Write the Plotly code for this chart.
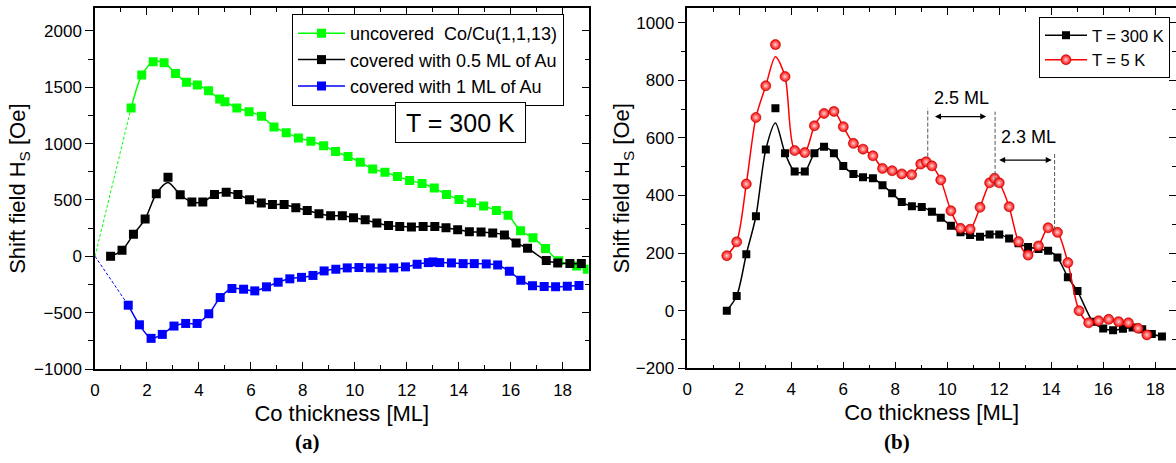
import plotly.graph_objects as go

# ---------------- data: panel (a) ----------------
unc_x = [1.39, 1.80, 2.24, 2.66, 3.10, 3.52, 3.94, 4.37, 4.80, 5.00, 5.46, 5.93, 6.41, 6.89, 7.36,
         7.83, 8.31, 8.80, 9.26, 9.74, 10.21, 10.69, 11.16, 11.64, 12.11, 12.59, 13.06, 13.53,
         14.01, 14.49, 14.96, 15.45, 15.90, 16.38, 16.86, 17.34, 17.85, 18.54, 18.95]
unc_y = [1316, 1608, 1726, 1717, 1622, 1543, 1519, 1469, 1395, 1372, 1316, 1283, 1242, 1148, 1097,
         1050, 1020, 980, 929, 885, 835, 775, 746, 708, 672, 646, 605, 549,
         504, 475, 445, 407, 363, 226, 165, 68, -40, -86, -115]

half_x = [0.60, 1.04, 1.48, 1.93, 2.36, 2.81, 3.28, 3.73, 4.15, 4.60, 5.05, 5.50, 5.95, 6.40, 6.83,
          7.28, 7.73, 8.17, 8.62, 9.07, 9.52, 9.95, 10.40, 10.85, 11.30, 11.73, 12.18, 12.63,
          13.08, 13.51, 13.96, 14.41, 14.86, 15.31, 15.76, 16.21, 16.65, 17.37, 17.81, 18.28, 18.72]
half_y = [0, 53, 195, 330, 555, 702, 546, 481, 481, 549, 569, 549, 502, 472, 460,
          460, 431, 407, 378, 360, 360, 342, 323, 296, 272, 265, 259, 265,
          265, 254, 236, 218, 215, 206, 189, 118, 71, -38, -59, -65, -65]
half_fit = [0, 53, 195, 330, 555, 655, 546, 481, 481, 549, 569, 549, 502, 472, 460,
            460, 431, 407, 378, 360, 360, 342, 323, 296, 272, 265, 259, 265,
            265, 254, 236, 218, 215, 206, 189, 118, 71, -38, -59, -65, -65]

one_x = [1.28, 1.71, 2.16, 2.59, 3.04, 3.49, 3.93, 4.38, 4.82, 5.27, 5.72, 6.15, 6.60, 7.05, 7.50,
         7.95, 8.39, 8.82, 9.27, 9.71, 10.16, 10.60, 11.05, 11.50, 11.95, 12.40, 12.83, 13.01,
         13.27, 13.72, 14.17, 14.60, 15.06, 15.50, 15.95, 16.39, 16.84, 17.29, 17.73, 18.18, 18.63]
one_y = [-434, -608, -728, -693, -619, -596, -596, -510, -366, -286, -292, -307, -271, -230, -200,
         -187, -170, -130, -115, -103, -100, -103, -105, -103, -94, -71, -56, -50,
         -56, -59, -65, -65, -68, -77, -133, -212, -262, -268, -271, -265, -259]

# extrapolation to the origin (dashed)
origin = [0, 0]

# ---------------- data: panel (b) ----------------
k300_x = [1.52, 1.90, 2.27, 2.64, 3.02, 3.39, 3.76, 4.13, 4.52, 4.89, 5.26, 5.64, 6.00, 6.39, 6.76,
          7.14, 7.51, 7.88, 8.25, 8.64, 9.02, 9.41, 9.75, 10.14, 10.51, 10.88, 11.26, 11.63, 12.00,
          12.38, 12.74, 13.11, 13.51, 13.88, 14.24, 14.64, 15.01, 15.60, 16.00, 16.38, 16.76, 17.13,
          17.50, 17.87, 18.26]
k300_y = [0, 51, 196, 328, 560, 703, 547, 483, 483, 547, 569, 547, 502, 475, 463,
          460, 436, 408, 377, 363, 360, 344, 323, 295, 272, 263, 257, 265, 265,
          251, 234, 221, 214, 208, 185, 116, 68, -38, -62, -68, -63, -58,
          -64, -81, -90]
k300_fit = [0, 51, 196, 328, 560, 652, 547, 483, 483, 547, 569, 547, 502, 475, 463,
            460, 436, 408, 377, 363, 360, 344, 323, 295, 272, 263, 257, 265, 265,
            251, 234, 221, 214, 208, 185, 116, 68, -38, -62, -68, -63, -58,
            -64, -81, -90]

k5_x = [1.52, 1.90, 2.27, 2.64, 3.02, 3.39, 3.76, 4.13, 4.52, 4.89, 5.26, 5.64, 6.00, 6.39, 6.76,
        7.14, 7.51, 7.88, 8.25, 8.63, 8.98, 9.19, 9.41, 9.75, 10.14, 10.51, 10.88, 11.26, 11.63,
        11.82, 12.00, 12.38, 12.74, 13.11, 13.51, 13.88, 14.24, 14.64, 15.07, 15.44, 15.82, 16.21,
        16.59, 16.97, 17.34, 17.68]
k5_y = [191, 239, 440, 671, 781, 924, 813, 556, 549, 642, 685, 692, 639, 581, 561,
        538, 494, 486, 475, 472, 509, 517, 503, 454, 347, 286, 283, 359, 444,
        460, 444, 361, 240, 193, 225, 288, 272, 167, 0, -42, -35, -30,
        -38, -42, -61, -84]
k5_fit = [191, 239, 440, 671, 781, 882, 813, 556, 549, 642, 685, 692, 639, 581, 561,
          538, 494, 486, 475, 472, 509, 517, 503, 454, 347, 286, 283, 359, 444,
          460, 444, 361, 240, 193, 225, 288, 272, 167, 0, -42, -35, -30,
          -38, -42, -61, -84]

# period annotations (b)
guide_x = [9.25, 11.84, 14.13]
guide_top = [703, 691, 546]
guide_bot = [535, 430, 280]
arrow_x0 = [9.47, 11.94]
arrow_x1 = [11.50, 14.02]
arrow_y = [674, 523]
period_labels = ["2.5 ML", "2.3 ML"]
label_x = [10.53, 13.14]
label_y = [737, 604]

SANS = "Liberation Sans, Arial, sans-serif"
SERIF = "Liberation Serif, Times New Roman, serif"
GREEN = "#00ff00"
BLUE = "#0000ff"
RED = "#ff0000"
W, H = 1176, 463

fig = go.Figure()

# ---- panel (a) ----
fig.add_trace(go.Scatter(x=[origin[0], unc_x[0]], y=[origin[1], unc_y[0]], mode="lines",
                         line=dict(color=GREEN, width=1, dash="3px,2px"), showlegend=False,
                         xaxis="x", yaxis="y", hoverinfo="skip"))
fig.add_trace(go.Scatter(x=[origin[0], one_x[0]], y=[origin[1], one_y[0]], mode="lines",
                         line=dict(color=BLUE, width=1, dash="3px,2px"), showlegend=False,
                         xaxis="x", yaxis="y", hoverinfo="skip"))
fig.add_trace(go.Scatter(x=unc_x, y=unc_y, mode="lines+markers", name="uncovered  Co/Cu(1,1,13)",
                         line=dict(color=GREEN, width=1.5, shape="spline", smoothing=0.8),
                         marker=dict(symbol="square", size=9, color=GREEN),
                         xaxis="x", yaxis="y", legend="legend"))
fig.add_trace(go.Scatter(x=half_x, y=half_fit, mode="lines",
                         line=dict(color="black", width=1.5, shape="spline", smoothing=0.8),
                         showlegend=False, xaxis="x", yaxis="y", hoverinfo="skip"))
fig.add_trace(go.Scatter(x=half_x, y=half_y, mode="markers",
                         marker=dict(symbol="square", size=9, color="black"),
                         showlegend=False, xaxis="x", yaxis="y"))
fig.add_trace(go.Scatter(x=[None], y=[None], mode="lines+markers", name="covered with 0.5 ML of Au",
                         line=dict(color="black", width=1.5),
                         marker=dict(symbol="square", size=9, color="black"),
                         xaxis="x", yaxis="y", legend="legend"))
fig.add_trace(go.Scatter(x=one_x, y=one_y, mode="lines+markers", name="covered with 1 ML of Au",
                         line=dict(color=BLUE, width=1.5, shape="spline", smoothing=0.8),
                         marker=dict(symbol="square", size=9, color=BLUE),
                         xaxis="x", yaxis="y", legend="legend"))

# ---- panel (b) ----
fig.add_trace(go.Scatter(x=k300_x, y=k300_fit, mode="lines",
                         line=dict(color="black", width=1.5, shape="spline", smoothing=0.8),
                         showlegend=False, xaxis="x2", yaxis="y2", hoverinfo="skip"))
fig.add_trace(go.Scatter(x=k300_x, y=k300_y, mode="markers",
                         marker=dict(symbol="square", size=8, color="black"),
                         showlegend=False, xaxis="x2", yaxis="y2"))
fig.add_trace(go.Scatter(x=k5_x, y=k5_fit, mode="lines",
                         line=dict(color=RED, width=1.5, shape="spline", smoothing=0.8),
                         showlegend=False, xaxis="x2", yaxis="y2", hoverinfo="skip"))
sphere = dict(symbol="circle", size=10, color=RED,
              line=dict(color="#b00000", width=0.6),
              gradient=dict(type="radial", color="#ffd0d0"))
fig.add_trace(go.Scatter(x=k5_x, y=k5_y, mode="markers", marker=sphere,
                         showlegend=False, xaxis="x2", yaxis="y2"))
fig.add_trace(go.Scatter(x=[None], y=[None], mode="lines+markers", name="T = 300 K",
                         line=dict(color="black", width=1.5),
                         marker=dict(symbol="square", size=8, color="black"),
                         xaxis="x2", yaxis="y2", legend="legend2"))
fig.add_trace(go.Scatter(x=[None], y=[None], mode="lines+markers", name="T = 5 K",
                         line=dict(color=RED, width=1.5), marker=sphere,
                         xaxis="x2", yaxis="y2", legend="legend2"))

# dummy traces to realise the right-hand (mirror) y axes
fig.add_trace(go.Scatter(x=[None], y=[None], xaxis="x", yaxis="y3", showlegend=False, hoverinfo="skip"))
fig.add_trace(go.Scatter(x=[None], y=[None], xaxis="x2", yaxis="y4", showlegend=False, hoverinfo="skip"))

# guides and arrows
for gx, gt, gb in zip(guide_x, guide_top, guide_bot):
    fig.add_shape(type="line", xref="x2", yref="y2", x0=gx, x1=gx, y0=gb, y1=gt,
                  line=dict(color="#555555", width=1, dash="4px,2px"))
for x0, x1, ya in zip(arrow_x0, arrow_x1, arrow_y):
    fig.add_annotation(xref="x2", yref="y2", axref="x2", ayref="y2", x=x1, y=ya, ax=x0, ay=ya,
                       text="", showarrow=True, arrowhead=2, arrowside="end+start",
                       arrowsize=1, arrowwidth=1.2, arrowcolor="black")
for t, lx, ly in zip(period_labels, label_x, label_y):
    fig.add_annotation(xref="x2", yref="y2", x=lx, y=ly, text=t, showarrow=False,
                       xanchor="center", yanchor="middle",
                       font=dict(family=SANS, size=18, color="black"))

# T = 300 K box (a)
fig.add_annotation(xref="paper", yref="paper", x=460.5 / W, y=1 - 122.5 / H,
                   xanchor="center", yanchor="middle",
                   text="T = 300 K", showarrow=False, font=dict(family=SANS, size=25, color="black"),
                   bordercolor="black", borderwidth=1, borderpad=2, bgcolor="white",
                   width=125, height=35)

# panel labels
fig.add_annotation(xref="paper", yref="paper", x=307 / W, y=1 - 442 / H, text="<b>(a)</b>",
                   xanchor="center", yanchor="middle", showarrow=False,
                   font=dict(family=SERIF, size=21, color="black"))
fig.add_annotation(xref="paper", yref="paper", x=897 / W, y=1 - 442 / H, text="<b>(b)</b>",
                   xanchor="center", yanchor="middle", showarrow=False,
                   font=dict(family=SERIF, size=21, color="black"))

tickfont = dict(family=SANS, size=17, color="black")
titlefont = dict(family=SANS, size=22, color="black")

xcommon = dict(showgrid=False, zeroline=False, showline=True, linecolor="black", linewidth=1.5,
               mirror="ticks", ticks="inside", ticklen=7, tickwidth=1.2, tickcolor="black",
               tickfont=tickfont, dtick=2, tick0=0, automargin=False, ticklabelstandoff=5,
               minor=dict(ticks="inside", ticklen=4, dtick=1, tickcolor="black", tickwidth=1.2),
               title=dict(text="Co thickness [ML]", font=titlefont, standoff=6))
ycommon = dict(showgrid=False, zeroline=False, showline=True, linecolor="black", linewidth=1.5,
               mirror=True, ticks="outside", ticklen=8, tickwidth=1.2, tickcolor="black",
               tickfont=tickfont, automargin=False)
ymirror = dict(showgrid=False, zeroline=False, showline=False, ticks="inside", ticklen=7,
               tickwidth=1.2, tickcolor="black", showticklabels=False, side="right",
               automargin=False)

fig.update_layout(
    width=W, height=H,
    margin=dict(l=0, r=0, t=0, b=0, autoexpand=False),
    paper_bgcolor="white", plot_bgcolor="white",
    xaxis=dict(xcommon, domain=[95 / W, 588.6 / W], range=[0, 19], anchor="y"),
    yaxis=dict(ycommon, domain=[1 - 369 / H, 1 - 8.3 / H], range=[-1000, 2200], anchor="x",
               dtick=500, tick0=0,
               minor=dict(ticks="outside", ticklen=5, dtick=250, tickcolor="black", tickwidth=1.2),
               title=dict(text="Shift field H<sub>S</sub> [Oe]", font=titlefont, standoff=2)),
    yaxis3=dict(ymirror, overlaying="y", anchor="x", range=[-1000, 2200], dtick=500, tick0=0,
                minor=dict(ticks="inside", ticklen=4, dtick=250, tickcolor="black", tickwidth=1.2)),
    xaxis2=dict(xcommon, domain=[687.3 / W, 1.0], range=[0, 18.8], anchor="y2"),
    yaxis2=dict(ycommon, domain=[1 - 368.3 / H, 1 - 8.3 / H], range=[-200, 1050], anchor="x2",
                dtick=200, tick0=0,
                minor=dict(ticks="outside", ticklen=5, dtick=100, tickcolor="black", tickwidth=1.2),
                title=dict(text="Shift field H<sub>S</sub> [Oe]", font=titlefont, standoff=0)),
    yaxis4=dict(ymirror, overlaying="y2", anchor="x2", range=[-200, 1050], dtick=200, tick0=0,
                minor=dict(ticks="inside", ticklen=4, dtick=100, tickcolor="black", tickwidth=1.2)),
    legend=dict(x=292 / W, xanchor="left", y=1 - 14 / H, yanchor="top",
                bgcolor="white", bordercolor="black", borderwidth=1,
                font=dict(family=SANS, size=18, color="black"),
                traceorder="normal", itemwidth=47, entrywidth=280, entrywidthmode="pixels"),
    legend2=dict(x=1170 / W, xanchor="right", y=1 - 17 / H, yanchor="top",
                 bgcolor="white", bordercolor="black", borderwidth=1,
                 font=dict(family=SANS, size=16.5, color="black"),
                 traceorder="normal", itemwidth=42),
    showlegend=True,
)

fig.write_html("out.html")
